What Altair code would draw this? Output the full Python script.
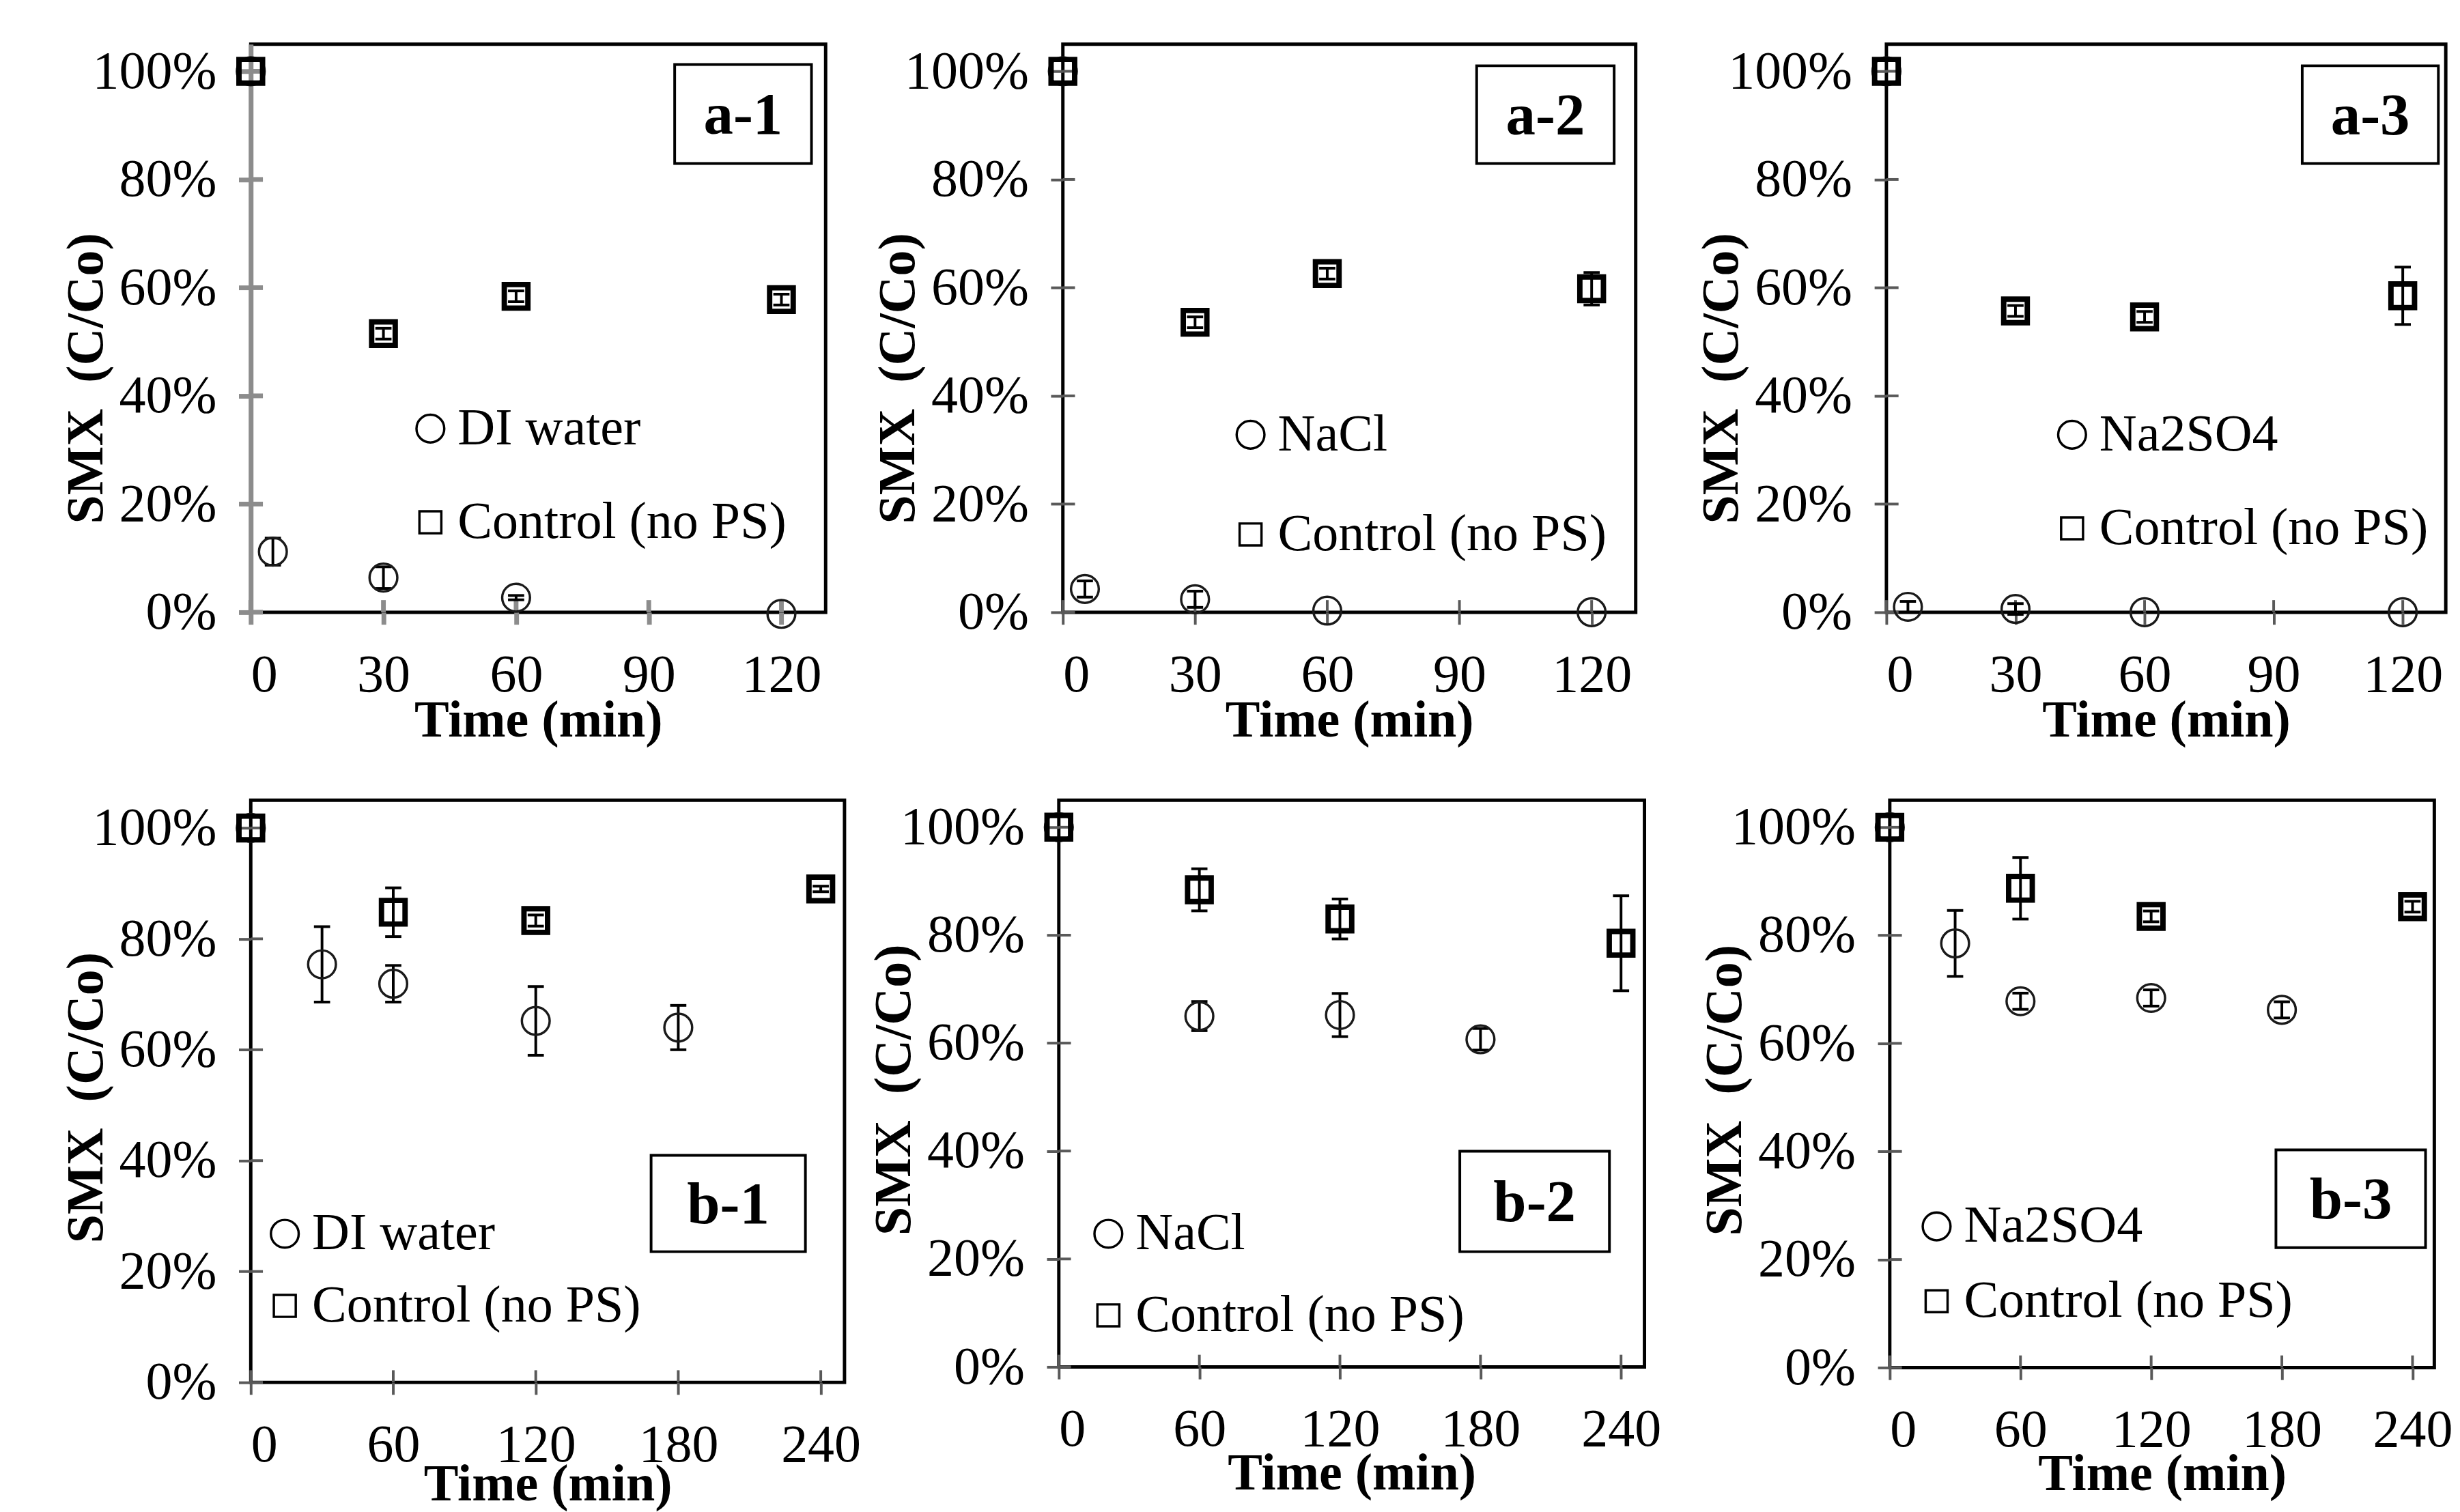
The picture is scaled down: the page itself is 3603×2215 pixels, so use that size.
import altair as alt
import pandas as pd

FONT = "Liberation Serif"
CONTROL = "Control (no PS)"

# ---------------- data ----------------
# row a : 0-120 min
a1_name = "DI water"
a1_t = [0, 5, 30, 60, 120]
a1_v = [1.00, 0.112, 0.064, 0.027, -0.003]
a1_e = [0, 0.025, 0.02, 0.004, 0]
a1_ct = [0, 30, 60, 120]
a1_cv = [1.00, 0.515, 0.584, 0.578]
a1_ce = [0, 0.01, 0.01, 0.01]

a2_name = "NaCl"
a2_t = [0, 5, 30, 60, 120]
a2_v = [1.00, 0.043, 0.024, 0.003, 0.0]
a2_e = [0, 0.015, 0.015, 0, 0]
a2_ct = [0, 30, 60, 120]
a2_cv = [1.00, 0.536, 0.626, 0.598]
a2_ce = [0, 0.01, 0.01, 0.03]

a3_name = "Na2SO4"
a3_t = [0, 5, 30, 60, 120]
a3_v = [1.00, 0.010, 0.006, 0.0, 0.0]
a3_e = [0, 0.01, 0.01, 0, 0]
a3_ct = [0, 30, 60, 120]
a3_cv = [1.00, 0.557, 0.546, 0.585]
a3_ce = [0, 0.01, 0.01, 0.053]

# row b : 0-240 min
b1_name = "DI water"
b1_t = [0, 30, 60, 120, 180]
b1_v = [1.00, 0.754, 0.719, 0.652, 0.640]
b1_e = [0, 0.068, 0.033, 0.062, 0.04]
b1_ct = [0, 60, 120, 240]
b1_cv = [1.00, 0.848, 0.833, 0.890]
b1_ce = [0, 0.044, 0.01, 0.005]

b2_name = "NaCl"
b2_t = [0, 60, 120, 180]
b2_v = [1.00, 0.650, 0.652, 0.607]
b2_e = [0, 0.027, 0.04, 0.02]
b2_ct = [0, 60, 120, 240]
b2_cv = [1.00, 0.884, 0.830, 0.785]
b2_ce = [0, 0.039, 0.037, 0.088]

b3_name = "Na2SO4"
b3_t = [0, 30, 60, 120, 180]
b3_v = [1.00, 0.785, 0.678, 0.684, 0.662]
b3_e = [0, 0.061, 0.015, 0.015, 0.015]
b3_ct = [0, 60, 120, 240]
b3_cv = [1.00, 0.887, 0.835, 0.853]
b3_ce = [0, 0.057, 0.01, 0.01]

x_ticks_a = [0, 30, 60, 90, 120]
x_ticks_b = [0, 60, 120, 180, 240]
y_ticks = [0, 0.2, 0.4, 0.6, 0.8, 1.0]
panel_labels = ["a-1", "a-2", "a-3", "b-1", "b-2", "b-3"]


def panel(name, ts, vs, es, tc, vc, ec, label, W, H, xmax, xticks, box, leg,
          tick_color, tick_width, grey_axis, title_y, ytitle_shift):
    df = pd.DataFrame({
        "t": ts + tc,
        "v": vs + vc,
        "e": es + ec,
        "series": [name] * len(ts) + [CONTROL] * len(tc),
    })
    dom = [name, CONTROL]
    xs = alt.Scale(domain=[0, xmax], nice=False, zero=False)
    ys = alt.Scale(domain=[0, 1.05], nice=False)
    xaxis = alt.Axis(values=xticks, title="Time (min)", grid=False, domain=False,
                     tickSize=18, tickWidth=tick_width, tickColor=tick_color,
                     labelPadding=37, labelFont=FONT, labelFontSize=79, labelColor="black",
                     labelLimit=0,
                     titleFont=FONT, titleFontSize=77, titleFontWeight="bold", titleColor="black",
                     titleY=title_y, titleBaseline="alphabetic")
    yaxis = alt.Axis(values=y_ticks, format=".0%", title="SMX\u00a0\u00a0(C/Co)", grid=False,
                     domain=grey_axis, domainColor=tick_color, domainWidth=tick_width,
                     tickSize=18, tickWidth=tick_width, tickColor=tick_color,
                     labelPadding=33, labelFont=FONT, labelFontSize=79, labelColor="black",
                     labelLimit=0,
                     titleFont=FONT, titleFontSize=77, titleFontWeight="bold", titleColor="black",
                     titleX=-221, titleY=H / 2 + ytitle_shift, titleAngle=270, titleAlign="center",
                     titleBaseline="alphabetic")
    lg = alt.Legend(orient="none", legendX=leg[0] - 36, legendY=leg[1] - 38, title=None,
                    labelFont=FONT, labelFontSize=77, labelColor="black", labelLimit=0,
                    labelOffset=2, rowPadding=leg[2] - 77, padding=0,
                    symbolStrokeWidth=3.5, symbolStrokeColor="black",
                    symbolFillColor="transparent")
    shape_enc = alt.Shape("series:N", scale=alt.Scale(domain=dom, range=["circle", "square"]), legend=lg)
    size_enc = alt.Size("series:N", scale=alt.Scale(type="point", domain=dom, range=[1700, 1056], padding=0), legend=lg)

    base = alt.Chart(df)
    X = alt.X("t:Q", scale=xs, axis=xaxis)

    circles = base.transform_filter(alt.datum.series == name).mark_point(
        filled=False, strokeWidth=3.5, color="#1a1a1a", opacity=1
    ).encode(x=X, y=alt.Y("v:Q", scale=ys, axis=yaxis), shape=shape_enc, size=size_enc)
    squares = base.transform_filter(alt.datum.series == CONTROL).mark_point(
        filled=False, strokeWidth=8, color="black", opacity=1
    ).encode(x=X, y=alt.Y("v:Q", scale=ys, axis=yaxis), shape=shape_enc, size=alt.value(1225))

    err = base.transform_filter(alt.datum.e > 0).transform_calculate(
        lo="datum.v - datum.e", hi="datum.v + datum.e")
    bars = err.mark_rule(color="black", strokeWidth=4).encode(
        x=X, y=alt.Y("lo:Q", scale=ys, axis=yaxis), y2="hi:Q")
    cap_lo = err.mark_tick(orient="horizontal", color="black", size=24, thickness=4, opacity=1).encode(
        x=X, y=alt.Y("lo:Q", scale=ys, axis=yaxis))
    cap_hi = err.mark_tick(orient="horizontal", color="black", size=24, thickness=4, opacity=1).encode(
        x=X, y=alt.Y("hi:Q", scale=ys, axis=yaxis))

    # inner halves of the crossing tick marks
    xin = alt.Chart(pd.DataFrame({"t": xticks})).mark_rule(color=tick_color, strokeWidth=tick_width).encode(
        x=X, y=alt.value(H), y2=alt.value(H - 18))
    yin = alt.Chart(pd.DataFrame({"v": y_ticks})).mark_rule(color=tick_color, strokeWidth=tick_width).encode(
        y=alt.Y("v:Q", scale=ys, axis=yaxis), x=alt.value(0), x2=alt.value(18))

    ldf = pd.DataFrame({"label": [label]})
    rect = alt.Chart(ldf).mark_rect(fill="white", stroke="black", strokeWidth=4).encode(
        x=alt.value(box[0]), x2=alt.value(box[1]), y=alt.value(box[2]), y2=alt.value(box[3]))
    txt = alt.Chart(ldf).mark_text(font=FONT, fontSize=88, fontWeight="bold", color="black",
                                   align="center", baseline="middle").encode(
        text="label:N", x=alt.value((box[0] + box[1]) / 2), y=alt.value((box[2] + box[3]) / 2 + 3))

    return alt.layer(xin, yin, bars, cap_lo, cap_hi, circles, squares, rect, txt).properties(
        width=W, height=H)


def indep(c):
    return c.resolve_scale(shape="independent", size="independent").resolve_legend(
        shape="independent", size="independent")


ga, gw = "#8c8c8c", 7
da, dw = "#595959", 4

p_a1 = panel(a1_name, a1_t, a1_v, a1_e, a1_ct, a1_cv, a1_ce, panel_labels[0], 853, 843, 130, x_ticks_a,
             (629, 832, 30, 177), (264, 570, 138), ga, gw, True, 184, 74)
p_a2 = panel(a2_name, a2_t, a2_v, a2_e, a2_ct, a2_cv, a2_ce, panel_labels[1], 850, 843, 130, x_ticks_a,
             (614, 818, 32, 177), (276, 579, 147), da, dw, False, 184, 74)
p_a3 = panel(a3_name, a3_t, a3_v, a3_e, a3_ct, a3_cv, a3_ce, panel_labels[2], 830, 843, 130, x_ticks_a,
             (617, 819, 32, 177), (273, 579, 138), da, dw, False, 184, 74)
p_b1 = panel(b1_name, b1_t, b1_v, b1_e, b1_ct, b1_cv, b1_ce, panel_labels[3], 881, 864, 250, x_ticks_b,
             (594, 823, 527, 670), (48, 643, 106), da, dw, False, 175, 9)
p_b2 = panel(b2_name, b2_t, b2_v, b2_e, b2_ct, b2_cv, b2_ce, panel_labels[4], 869, 841, 250, x_ticks_b,
             (595, 817, 521, 670), (71, 643, 120), da, dw, False, 181, 9)
p_b3 = panel(b3_name, b3_t, b3_v, b3_e, b3_ct, b3_cv, b3_ce, panel_labels[5], 808, 842, 250, x_ticks_b,
             (573, 795, 519, 664), (67, 632, 110), da, dw, False, 181, 9)

row_a = indep(alt.hconcat(indep(alt.hconcat(p_a1, p_a2, spacing=63)), p_a3, spacing=83))
row_b = indep(alt.hconcat(indep(alt.hconcat(p_b1, p_b2, spacing=5)), p_b3, spacing=51))

chart = indep(alt.vconcat(row_a, row_b, spacing=74)).properties(
    padding={"left": 78, "top": 40, "right": 0, "bottom": 0},
    background="white",
).configure_view(stroke="black", strokeWidth=5).configure_legend(
    labelFont=FONT, labelFontSize=77, labelColor="black", labelLimit=0)

chart.save("out.html", embed_options={"renderer": "svg", "actions": False})
